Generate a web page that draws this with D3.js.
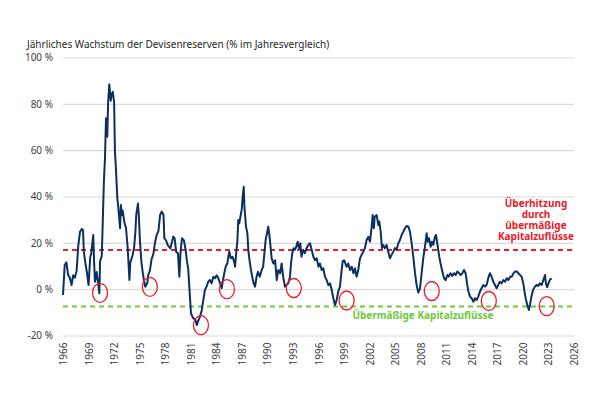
<!DOCTYPE html>
<html>
<head>
<meta charset="utf-8">
<script src="https://cdn.jsdelivr.net/npm/d3@7"></script>
<style>
  body { margin: 0; background: #fff; }
  text { font-family: "Noto Sans", "Open Sans", sans-serif; }
</style>
</head>
<body>
<svg id="chart" width="605" height="393"></svg>
<script>
// series: decimal year, y/y growth in %
var years = [1966.0, 1966.2, 1966.4, 1966.6, 1966.8, 1967.0, 1967.2, 1967.4, 1967.6, 1967.8, 1968.0, 1968.2, 1968.35, 1968.45, 1968.6, 1968.8, 1969.0, 1969.2, 1969.3, 1969.55, 1969.65, 1969.75, 1969.95, 1970.15, 1970.27, 1970.35, 1970.55, 1970.66, 1970.8, 1970.93, 1971.05, 1971.2, 1971.3, 1971.44, 1971.6, 1971.7, 1971.84, 1972.0, 1972.1, 1972.2, 1972.38, 1972.5, 1972.7, 1972.8, 1972.9, 1973.0, 1973.2, 1973.4, 1973.6, 1973.8, 1973.9, 1974.15, 1974.35, 1974.5, 1974.6, 1974.8, 1974.9, 1975.04, 1975.2, 1975.35, 1975.5, 1975.66, 1975.9, 1976.0, 1976.2, 1976.4, 1976.6, 1976.8, 1977.0, 1977.2, 1977.4, 1977.6, 1977.8, 1977.9, 1978.1, 1978.3, 1978.6, 1978.8, 1978.95, 1979.1, 1979.3, 1979.5, 1979.66, 1979.8, 1979.97, 1980.2, 1980.4, 1980.55, 1980.7, 1980.9, 1981.03, 1981.2, 1981.3, 1981.57, 1981.7, 1981.85, 1982.08, 1982.3, 1982.47, 1982.67, 1982.85, 1983.06, 1983.25, 1983.45, 1983.65, 1983.85, 1984.05, 1984.24, 1984.45, 1984.63, 1984.75, 1984.94, 1985.1, 1985.3, 1985.41, 1985.53, 1985.7, 1985.9, 1986.1, 1986.2, 1986.33, 1986.47, 1986.58, 1986.7, 1986.8, 1986.98, 1987.1, 1987.22, 1987.3, 1987.49, 1987.65, 1987.76, 1987.9, 1988.07, 1988.25, 1988.39, 1988.55, 1988.73, 1988.9, 1989.1, 1989.33, 1989.5, 1989.63, 1989.79, 1989.95, 1990.1, 1990.26, 1990.37, 1990.5, 1990.7, 1990.9, 1991.1, 1991.28, 1991.5, 1991.67, 1991.85, 1992.06, 1992.25, 1992.45, 1992.65, 1992.77, 1992.92, 1993.07, 1993.23, 1993.39, 1993.55, 1993.7, 1993.86, 1994.0, 1994.2, 1994.4, 1994.6, 1994.8, 1995.0, 1995.2, 1995.4, 1995.6, 1995.79, 1996.0, 1996.17, 1996.37, 1996.56, 1996.76, 1996.96, 1997.15, 1997.35, 1997.55, 1997.74, 1997.94, 1998.13, 1998.33, 1998.52, 1998.72, 1998.84, 1999.0, 1999.15, 1999.3, 1999.5, 1999.7, 1999.9, 2000.1, 2000.28, 2000.47, 2000.67, 2000.87, 2001.06, 2001.26, 2001.45, 2001.65, 2001.85, 2002.05, 2002.24, 2002.36, 2002.5, 2002.6, 2002.83, 2003.02, 2003.14, 2003.3, 2003.45, 2003.6, 2003.8, 2003.99, 2004.19, 2004.39, 2004.58, 2004.78, 2004.98, 2005.17, 2005.37, 2005.57, 2005.76, 2005.96, 2006.15, 2006.35, 2006.55, 2006.74, 2006.94, 2007.13, 2007.33, 2007.52, 2007.72, 2007.92, 2008.11, 2008.3, 2008.5, 2008.7, 2008.82, 2008.97, 2009.17, 2009.32, 2009.48, 2009.67, 2009.8, 2010.06, 2010.18, 2010.33, 2010.5, 2010.74, 2010.93, 2011.13, 2011.3, 2011.5, 2011.7, 2011.9, 2012.1, 2012.3, 2012.5, 2012.7, 2012.9, 2013.08, 2013.27, 2013.47, 2013.6, 2013.8, 2013.98, 2014.2, 2014.37, 2014.57, 2014.76, 2014.96, 2015.15, 2015.35, 2015.55, 2015.74, 2015.93, 2016.13, 2016.32, 2016.52, 2016.72, 2016.91, 2017.1, 2017.3, 2017.5, 2017.7, 2017.9, 2018.1, 2018.3, 2018.5, 2018.7, 2018.9, 2019.07, 2019.27, 2019.46, 2019.66, 2019.85, 2020.05, 2020.16, 2020.32, 2020.51, 2020.7, 2020.83, 2021.0, 2021.2, 2021.4, 2021.6, 2021.8, 2022.0, 2022.2, 2022.4, 2022.6, 2022.7, 2022.85, 2023.0, 2023.15, 2023.37, 2023.6];
var growth = [-2.5, 10.4, 11.6, 6.1, 5, 1.8, 6, 5, 8, 19, 24.8, 26, 25.5, 16.2, 11.9, 7.4, 1.8, 14, 15, 23.4, 12, 3.2, 7.4, 1.8, -1.8, 12, 14.3, 27.7, 46.4, 56.5, 73.8, 65.8, 80.9, 88.4, 81.3, 84, 85.2, 81, 59.4, 53, 39.2, 35, 26.3, 36.3, 32, 34, 29, 26.3, 17.6, 4, 11.4, 14.3, 18, 24.8, 32, 37, 32, 20.5, 12, 7.5, 4, 1, 2.7, 6, 8, 13, 15, 20, 23.4, 25, 32, 33.5, 32, 22, 21, 19, 17.6, 20.5, 22.7, 22, 16, 15.5, 5.4, 16, 22, 21, 17, 12, 9, -3, -10.4, -11.9, -12.5, -13.3, -15.5, -14, -11.9, -9, -4.7, -0.3, 1.1, 3.2, 4, 2.5, 5.4, 4.7, 6, 4.7, 2.5, 0.4, 3.2, 6.9, 9.7, 11.1, 14, 16.2, 13.3, 14, 11.8, 9.7, 15.4, 20.5, 29.9, 28.4, 30.6, 34.2, 40, 44.2, 35.6, 27, 24, 16.9, 12.5, 8.3, 4.7, 2.5, 1.1, 5.4, 7.5, 5.4, 8.3, 9.7, 14.8, 21.2, 24, 27, 22.6, 18.3, 13.3, 11.1, 12.5, 3.9, 8.3, 6.9, 11.1, 5.4, 1.1, 1.8, 2.5, 5.4, 11, 15.5, 17.7, 17, 18.3, 20.5, 17.7, 19.8, 14, 17, 15.5, 17.7, 19.1, 19.8, 17, 14, 12.5, 13.3, 9.7, 11.1, 8.3, 9, 5.4, 3.9, 1.8, 2.5, -0.3, -3.9, -6.8, -4.7, -0.9, 1.1, 8.3, 12, 12.5, 11.1, 9.7, 11.1, 8.3, 9.7, 6.9, 9, 5.4, 8.3, 13.3, 14.8, 16.2, 17.7, 21.2, 22.6, 20.5, 27, 32, 26.3, 31.3, 32, 27.7, 29.2, 24.8, 17.7, 19.1, 17.7, 19.1, 16.2, 13.3, 14.8, 16.2, 17.7, 17, 19.8, 21.2, 23.4, 24.8, 26.3, 27.3, 27, 24.8, 19.8, 14, 6.9, 1.8, -1.5, 0.4, 6.9, 13.3, 18.3, 24.1, 20.5, 22, 18.3, 20.5, 19.1, 22.6, 23.4, 16.9, 14, 11.1, 8.3, 4.7, 3.9, 6.1, 5.4, 6.9, 5.7, 6.9, 6.1, 7.6, 6.9, 6.1, 6.9, 8.3, 6.9, 1.8, -1, -3.2, -3.9, -5.4, -3.9, -4.7, -3.2, -1, 0.4, 1.8, 1.1, 1.8, 4.7, 6.9, 5.4, 3.2, 1.8, 0.4, 1.8, 3.2, 2.5, 3.9, 3.2, 4.7, 3.9, 5.4, 5.4, 6.9, 7.6, 7.6, 6.9, 6.1, 5.4, 2.5, -0.4, -3.9, -6.8, -9, -6.8, -3.2, -0.3, 1.1, 1.8, 1.4, 2.5, 1.8, 3.9, 6.1, 2.5, 0.8, 2.5, 3.9, 4.7];

// red circles marking the troughs
var troughYears = [1970.35, 1976.2, 1982.2, 1985.25, 1993.1, 1999.3, 2009.3, 2016.0, 2022.8];
var troughValues = [-1.6, 1.0, -15.5, 0.0, 0.5, -4.9, -0.8, -5.1, -7.3];

var upperBand = 16.9;
var lowerBand = -7.5;

var yTicks = [-20, 0, 20, 40, 60, 80, 100];
var xTicks = d3.range(1966, 2027, 3);

var title = "Jährliches Wachstum der Devisenreserven (% im Jahresvergleich)";
var upperLabel = ["Überhitzung", "durch", "übermäßige", "Kapitalzuflüsse"];
var lowerLabel = "Übermäßige Kapitalzuflüsse";

var svg = d3.select("#chart");

// plot box
const plotLeft = 63, plotRight = 574, plotTop = 57.5, plotBottom = 335.5;

var x = d3.scaleLinear().domain([1966, 2026]).range([plotLeft, plotRight]);
var y = d3.scaleLinear().domain([-20, 100]).range([plotBottom, plotTop]);

// title
svg.append("text")
  .attr("x", 27)
  .attr("y", 47.5)
  .attr("font-size", 10)
  .attr("fill", "#262626")
  .text(title);

// y axis with gridlines
var yAxis = d3.axisLeft(y)
  .tickValues(yTicks)
  .tickSize(-(plotRight - plotLeft))
  .tickPadding(10)
  .tickFormat(d => d + " %");

var gy = svg.append("g")
  .attr("transform", "translate(" + plotLeft + ",0)")
  .call(yAxis);
gy.select(".domain").remove();
gy.selectAll("line").attr("stroke", "#d9d9d9").attr("stroke-width", 1.2);
gy.selectAll("text")
  .attr("font-size", 10)
  .attr("fill", "#404040")
  .attr("x", -10);

// x axis, rotated year labels
var xAxis = d3.axisBottom(x)
  .tickValues(xTicks)
  .tickSize(0)
  .tickFormat(d3.format("d"));

var gx = svg.append("g")
  .attr("transform", "translate(0," + plotBottom + ")")
  .call(xAxis);
gx.select(".domain").remove();
gx.selectAll("text")
  .attr("font-size", 10)
  .attr("fill", "#404040")
  .attr("transform", "rotate(-90)")
  .attr("text-anchor", "end")
  .attr("x", -7)
  .attr("y", 0)
  .attr("dy", "0.35em");

// threshold lines
svg.append("line")
  .attr("x1", plotLeft).attr("x2", plotRight)
  .attr("y1", y(upperBand)).attr("y2", y(upperBand))
  .attr("stroke", "#e8202a")
  .attr("stroke-width", 2)
  .attr("stroke-dasharray", "5,4");

svg.append("line")
  .attr("x1", plotLeft).attr("x2", plotRight)
  .attr("y1", y(lowerBand)).attr("y2", y(lowerBand))
  .attr("stroke", "#6cc93a")
  .attr("stroke-width", 2)
  .attr("stroke-dasharray", "5,4");

// the series
var series = years.map((yr, i) => [yr, growth[i]]);
var line = d3.line()
  .x(d => x(d[0]))
  .y(d => y(d[1]));

svg.append("path")
  .datum(series)
  .attr("d", line)
  .attr("fill", "none")
  .attr("stroke", "#0c2f62")
  .attr("stroke-width", 2)
  .attr("stroke-linejoin", "round");

// trough markers
svg.selectAll(".trough")
  .data(troughYears)
  .enter()
  .append("ellipse")
  .attr("class", "trough")
  .attr("cx", d => x(d))
  .attr("cy", (d, i) => y(troughValues[i]))
  .attr("rx", 7.5)
  .attr("ry", 9.5)
  .attr("fill", "none")
  .attr("stroke", "#e8202a")
  .attr("stroke-width", 1.3);

// annotations
svg.append("text")
  .attr("x", 536)
  .attr("y", 206.5)
  .attr("text-anchor", "middle")
  .attr("font-size", 10)
  .attr("font-weight", "bold")
  .attr("fill", "#e8202a")
  .selectAll("tspan")
  .data(upperLabel)
  .enter()
  .append("tspan")
  .attr("x", 536)
  .attr("dy", (d, i) => i == 0 ? 0 : 11.3)
  .text(d => d);

svg.append("text")
  .attr("x", 423)
  .attr("y", 319)
  .attr("text-anchor", "middle")
  .attr("font-size", 10)
  .attr("font-weight", "bold")
  .attr("fill", "#6cc93a")
  .text(lowerLabel);
</script>
</body>
</html>
